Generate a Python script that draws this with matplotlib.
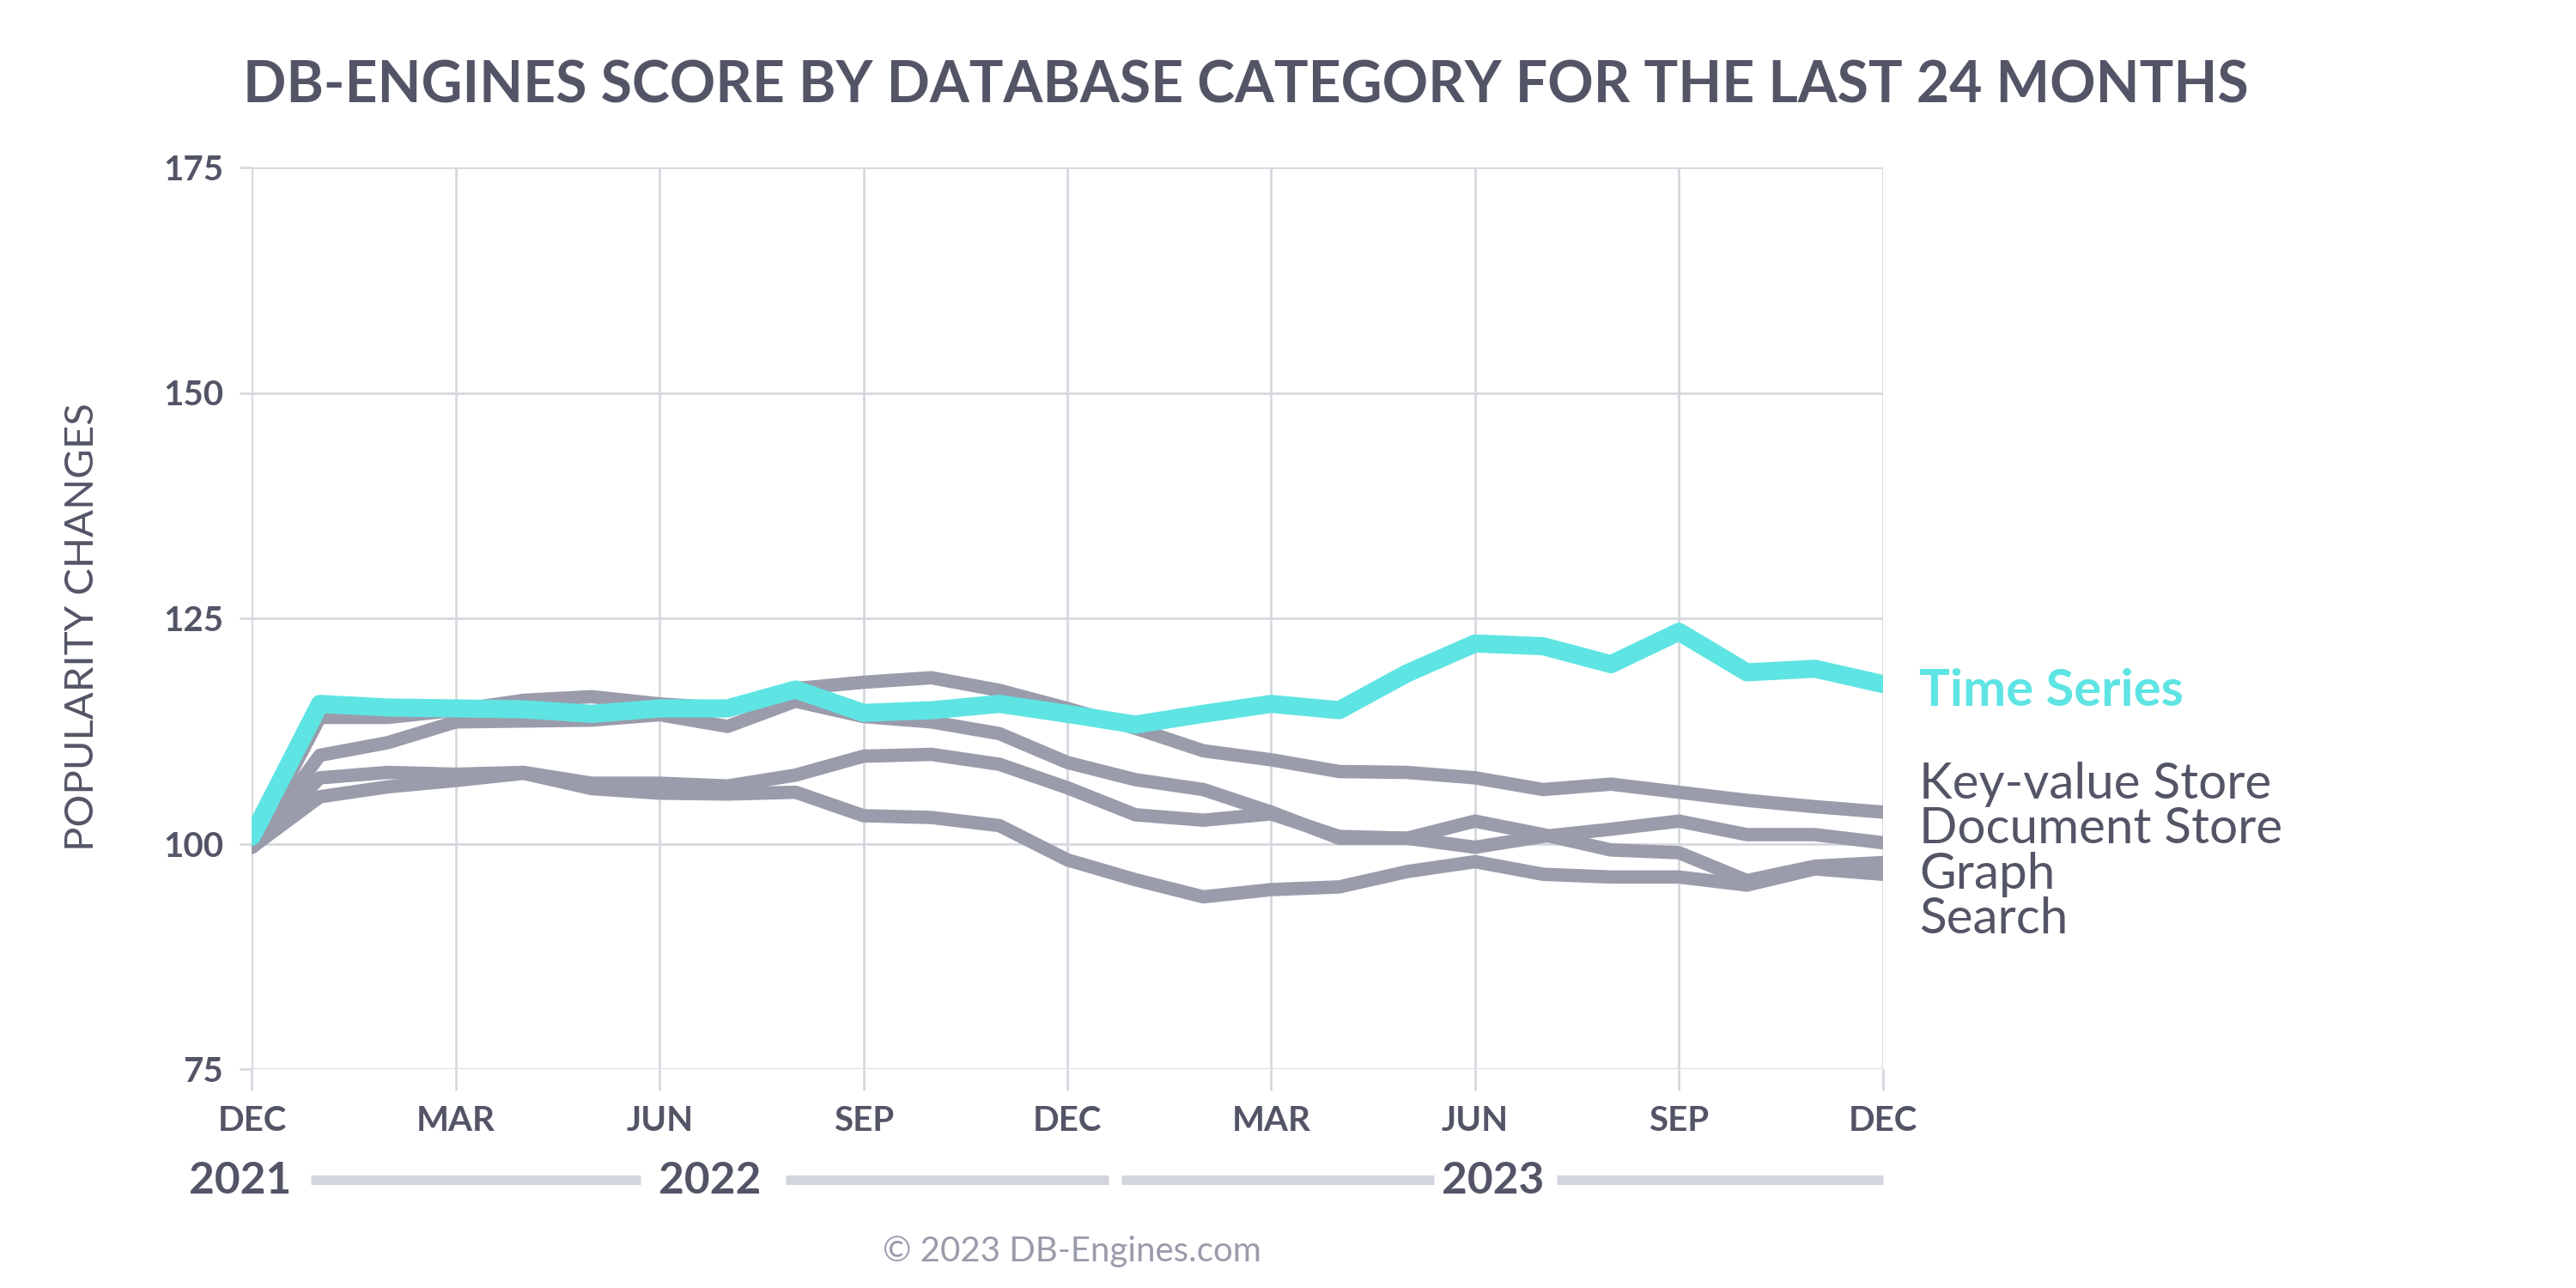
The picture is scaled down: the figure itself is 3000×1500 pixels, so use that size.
import matplotlib
matplotlib.use('Agg')
import matplotlib.pyplot as plt

# monthly index values, Dec 2021 .. Dec 2023 (25 points)
months = list(range(25))
time_series = [100.8, 115.5, 115.1, 115.0, 114.9, 114.4, 115.0, 115.0, 117.1, 114.5, 114.8, 115.5, 114.4,
               113.2, 114.4, 115.5, 114.8, 118.9, 122.2, 121.9, 119.9, 123.5, 119.0, 119.4, 117.7]
key_value = [99.6, 114.0, 114.0, 114.8, 115.9, 116.3, 115.5, 115.0, 117.2, 117.9, 118.4, 117.0, 115.0,
             112.8, 110.3, 109.3, 108.0, 107.9, 107.3, 106.0, 106.6, 105.7, 104.8, 104.1, 103.5]
document = [99.6, 109.8, 111.2, 113.5, 113.6, 113.7, 114.3, 113.0, 115.8, 114.1, 113.5, 112.2, 109.0,
            107.1, 106.0, 103.5, 100.6, 100.6, 99.6, 100.8, 101.6, 102.5, 101.0, 101.0, 100.1]
graph = [99.6, 107.3, 107.9, 107.7, 107.9, 106.7, 106.7, 106.4, 107.6, 109.7, 109.9, 108.8, 106.2,
         103.2, 102.6, 103.3, 100.8, 100.6, 102.5, 101.0, 99.3, 99.0, 95.9, 97.5, 97.9]
search = [99.6, 105.2, 106.3, 107.0, 107.8, 106.1, 105.6, 105.5, 105.7, 103.1, 102.9, 102.0, 98.2,
          96.0, 94.1, 94.9, 95.2, 96.9, 98.0, 96.6, 96.3, 96.3, 95.4, 97.2, 96.6]

tick_pos = [0, 3, 6, 9, 12, 15, 18, 21, 24]
tick_labels = ['DEC', 'MAR', 'JUN', 'SEP', 'DEC', 'MAR', 'JUN', 'SEP', 'DEC']
y_ticks = [75, 100, 125, 150, 175]

years = ['2021', '2022', '2023']
year_pos = [-0.18, 6.74, 18.26]
year_bars = [(0.87, 5.72), (7.85, 12.6), (12.8, 17.4), (19.2, 24.0)]

labels = ['Key-value Store', 'Document Store', 'Graph', 'Search']

TEAL = '#5ee4e3'
GRAY = '#9a9cab'
DARK = '#535567'
GRID = '#d6d8df'

plt.rcParams['font.family'] = ['Lato', 'DejaVu Sans']

fig = plt.figure(figsize=(15, 7.5), dpi=200)
ax = fig.add_axes([0.0978, 0.17, 0.6331, 0.7])

for s in [key_value, document, graph, search]:
    ax.plot(months, s, color=GRAY, lw=5.6, solid_capstyle='round', solid_joinstyle='round', zorder=3)
ax.plot(months, time_series, color=TEAL, lw=7.6, solid_capstyle='round', solid_joinstyle='round', zorder=4)

ax.set_xlim(0, 24)
ax.set_ylim(75, 175)
ax.set_xticks(tick_pos)
ax.set_xticklabels(tick_labels)
ax.set_yticks(y_ticks)
ax.grid(True, color=GRID, lw=1.0, zorder=0)
ax.set_axisbelow(True)
for sp in ax.spines.values():
    sp.set_visible(False)
ax.tick_params(axis='x', length=9, width=1.0, color=GRID, pad=6, labelsize=14.5, labelcolor=DARK)
ax.tick_params(axis='y', length=5, width=1.0, color=GRID, pad=7, labelsize=14.5, labelcolor=DARK)
for t in ax.get_xticklabels() + ax.get_yticklabels():
    t.set_fontweight('bold')

# year row under the month ticks
trans = ax.get_xaxis_transform()
for x0, x1 in year_bars:
    ax.plot([x0, x1], [-0.123, -0.123], transform=trans, color='#d3d5dc', lw=4,
            solid_capstyle='butt', clip_on=False)
for y, x in zip(years, year_pos):
    ax.text(x, -0.124, y, transform=trans, ha='center', va='center', fontsize=18.5,
            fontweight='bold', color=DARK)

fig.text(0.0944, 0.92, 'DB-ENGINES SCORE BY DATABASE CATEGORY FOR THE LAST 24 MONTHS',
         ha='left', va='baseline', fontsize=23.8, fontweight='bold', color=DARK)
fig.text(0.032, 0.513, 'POPULARITY CHANGES', rotation=90, ha='center', va='center',
         fontsize=17, color=DARK)

fig.text(0.745, 0.4522, 'Time Series', ha='left', va='baseline', fontsize=21.5,
         fontweight='bold', color=TEAL)
for lab, yb in zip(labels, [0.38, 0.3455, 0.31, 0.2755]):
    fig.text(0.745, yb, lab, ha='left', va='baseline', fontsize=21, color=DARK)

fig.text(0.416, 0.028, '\u00a9 2023 DB-Engines.com', ha='center', va='center',
         fontsize=14.5, color=GRAY)

fig.savefig('out.png', dpi=200, facecolor='white')
